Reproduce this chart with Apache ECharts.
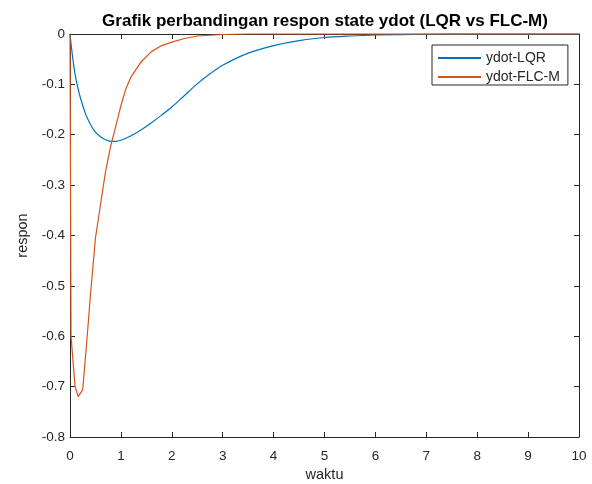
<!DOCTYPE html>
<html>
<head>
<meta charset="utf-8">
<script src="https://cdn.jsdelivr.net/npm/echarts@6/dist/echarts.min.js"></script>
<style>
  html, body { margin: 0; padding: 0; background: #ffffff; }
  #chart { width: 592px; height: 484px; }
</style>
</head>
<body>
<div id="chart"></div>
<script>
// Time samples (waktu) and responses for each controller
const tLQR = [0, 0.05, 0.1, 0.15, 0.2, 0.3, 0.4, 0.5, 0.6, 0.7, 0.8, 0.9, 1.0, 1.2, 1.4, 1.6, 1.8, 2.0, 2.25, 2.5, 2.75, 3.0, 3.5, 4.0, 4.5, 5.0, 5.5, 6.0, 7.0, 8.0, 9.0, 10.0];
const yLQR = [0, -0.045, -0.08, -0.105, -0.125, -0.157, -0.179, -0.195, -0.204, -0.210, -0.213, -0.213, -0.211, -0.202, -0.190, -0.176, -0.161, -0.145, -0.122, -0.099, -0.079, -0.062, -0.038, -0.023, -0.013, -0.007, -0.004, -0.002, -0.0005, 0, 0, 0];

const tFLC = [0, 0.02, 0.1, 0.16, 0.25, 0.33, 0.4, 0.5, 0.6, 0.7, 0.8, 0.9, 1.0, 1.1, 1.2, 1.4, 1.6, 1.8, 2.0, 2.25, 2.5, 3.0, 3.5, 10.0];
const yFLC = [0, -0.60, -0.70, -0.72, -0.706, -0.61, -0.52, -0.405, -0.338, -0.272, -0.222, -0.183, -0.142, -0.108, -0.085, -0.055, -0.035, -0.023, -0.016, -0.009, -0.004, -0.001, 0, 0];

const seriesNames = ['ydot-LQR', 'ydot-FLC-M'];
const titleText = 'Grafik perbandingan respon state ydot (LQR vs FLC-M)';
const xName = 'waktu';
const yName = 'respon';

const pair = (ts, vs) => ts.map((t, i) => [t, vs[i]]);

const axisColor = '#262626';
const fontFam = '"Liberation Sans", Arial, sans-serif';

const chart = echarts.init(document.getElementById('chart'), null, { renderer: 'canvas' });

const baseX = {
  type: 'value', min: 0, max: 10, interval: 1,
  axisLine: { show: true, onZero: false, lineStyle: { color: axisColor, width: 1 } },
  axisTick: { show: true, inside: true, length: 5, lineStyle: { color: axisColor } },
  splitLine: { show: false }
};
const baseY = {
  type: 'value', min: -0.8, max: 0, interval: 0.1,
  axisLine: { show: true, onZero: false, lineStyle: { color: axisColor, width: 1 } },
  axisTick: { show: true, inside: true, length: 5, lineStyle: { color: axisColor } },
  splitLine: { show: false }
};

chart.setOption({
  animation: false,
  backgroundColor: '#ffffff',
  title: {
    text: titleText,
    left: 320, top: 8, textAlign: 'center',
    textStyle: { fontFamily: fontFam, fontSize: 17, fontWeight: 'bold', color: '#000000' }
  },
  grid: { left: 70, right: 13, top: 34, bottom: 47, containLabel: false, outerBoundsMode: 'none' },
  legend: {
    orient: 'vertical',
    left: 432, top: 45,
    padding: [6, 8, 1, 5],
    itemWidth: 43, itemHeight: 14, itemGap: 5,
    itemStyle: { opacity: 0 },
    backgroundColor: '#ffffff',
    borderColor: axisColor, borderWidth: 1, borderRadius: 0,
    textStyle: { fontFamily: fontFam, fontSize: 14, color: axisColor },
    data: seriesNames
  },
  xAxis: [
    Object.assign({}, baseX, {
      position: 'bottom',
      name: xName, nameLocation: 'middle', nameGap: 29,
      nameTextStyle: { fontFamily: fontFam, fontSize: 14.5, color: axisColor },
      axisLabel: { fontFamily: fontFam, fontSize: 13.5, color: axisColor, margin: 12 }
    }),
    Object.assign({}, baseX, { position: 'top', axisLabel: { show: false } })
  ],
  yAxis: [
    Object.assign({}, baseY, {
      position: 'left',
      name: yName, nameLocation: 'middle', nameGap: 40,
      nameTextStyle: { fontFamily: fontFam, fontSize: 14.5, color: axisColor },
      axisLabel: { fontFamily: fontFam, fontSize: 13.5, color: axisColor, margin: 5 }
    }),
    Object.assign({}, baseY, { position: 'right', axisLabel: { show: false } })
  ],
  series: [
    {
      name: seriesNames[0], type: 'line', xAxisIndex: 0, yAxisIndex: 0,
      data: pair(tLQR, yLQR), showSymbol: false, symbol: 'none', smooth: 0.3,
      clip: false, z: 3,
      lineStyle: { color: '#0072BD', width: 1.2 }, itemStyle: { color: '#0072BD' }
    },
    {
      name: seriesNames[1], type: 'line', xAxisIndex: 0, yAxisIndex: 0,
      data: pair(tFLC, yFLC), showSymbol: false, symbol: 'none', smooth: false,
      clip: false, z: 4,
      lineStyle: { color: '#D95319', width: 1.2 }, itemStyle: { color: '#D95319' }
    }
  ]
});
</script>
</body>
</html>
